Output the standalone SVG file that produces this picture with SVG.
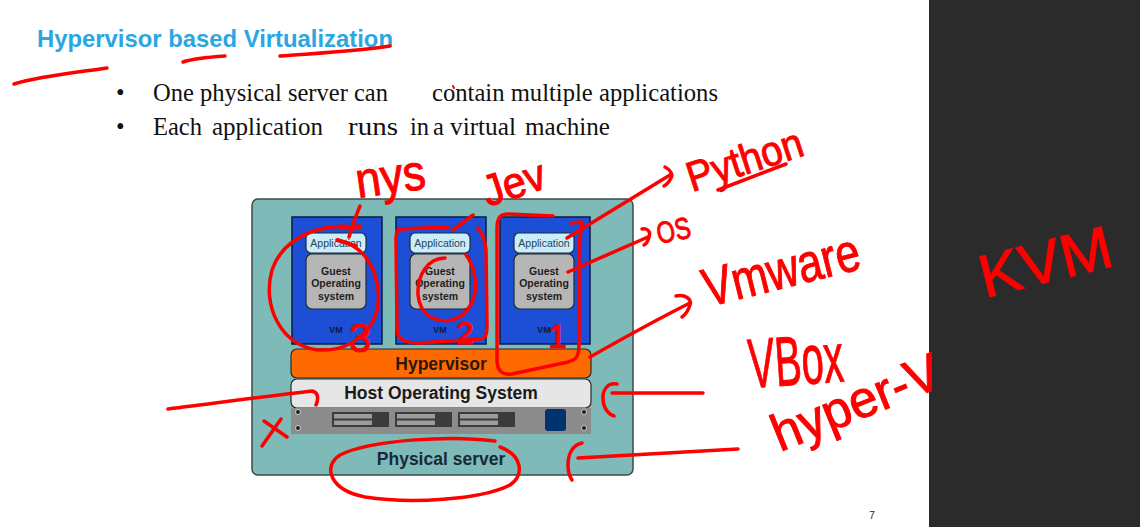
<svg xmlns="http://www.w3.org/2000/svg" width="1140" height="527" viewBox="0 0 1140 527">
  <defs>
    <style>
      .title { font-family: "Liberation Sans", Arial, sans-serif; font-weight: bold; font-size: 24px; fill: #2aa6e2; }
      .body { font-family: "Liberation Serif", "Times New Roman", serif; font-size: 24.5px; fill: #111; }
      .vm { fill: #1c4fd6; stroke: #0b1a44; stroke-width: 1.5; }
      .app { fill: #c9eef8; stroke: #1d2b3a; stroke-width: 1.2; }
      .apptxt { font-family: "Liberation Sans", Arial, sans-serif; font-size: 10.5px; fill: #27405e; text-anchor: middle; }
      .guest { fill: #b6b6b6; stroke: #1d2b3a; stroke-width: 1.2; }
      .guesttxt { font-family: "Liberation Sans", Arial, sans-serif; font-weight: bold; font-size: 10.5px; fill: #1e1e1e; text-anchor: middle; }
      .vmtxt { font-family: "Liberation Sans", Arial, sans-serif; font-weight: bold; font-size: 9px; fill: #0d1b3a; text-anchor: middle; }
      .layer { font-family: "Liberation Sans", Arial, sans-serif; font-weight: bold; font-size: 17.5px; text-anchor: middle; }
      .bay { fill: #3b3b3b; }
      .stripe { fill: #9c9c9c; }
      .screw { fill: #1e1e1e; stroke: #d0d0d0; stroke-width: 1; }
      .ink { fill: none; stroke: #ff0000; stroke-width: 3.5; stroke-linecap: round; stroke-linejoin: round; }
      .hand { font-family: "Liberation Sans", Arial, sans-serif; fill: #ff0000; stroke: #ff0000; stroke-width: 1; }
    </style>
  </defs>

  <!-- page -->
  <rect x="0" y="0" width="1140" height="527" fill="#ffffff"/>
  <rect x="929" y="0" width="211" height="527" fill="#2b2b2b"/>

  <!-- heading and bullets -->
  <g id="title">
    <text class="title" x="37" y="47" textLength="356" lengthAdjust="spacingAndGlyphs">Hypervisor based Virtualization</text>
  </g>
  <g id="bullets" class="body">
    <text x="116" y="101">•</text>
    <text x="153" y="101" textLength="235" lengthAdjust="spacingAndGlyphs">One physical server can</text>
    <text x="432" y="101" textLength="286" lengthAdjust="spacingAndGlyphs">contain multiple applications</text>
    <text x="116" y="135">•</text>
    <text x="153" y="135" textLength="49" lengthAdjust="spacingAndGlyphs">Each</text>
    <text x="212" y="135" textLength="111" lengthAdjust="spacingAndGlyphs">application</text>
    <text x="348" y="135" textLength="50" lengthAdjust="spacingAndGlyphs">runs</text>
    <text x="410" y="135">in</text>
    <text x="433" y="135">a</text>
    <text x="450" y="135" textLength="66" lengthAdjust="spacingAndGlyphs">virtual</text>
    <text x="525" y="135" textLength="85" lengthAdjust="spacingAndGlyphs">machine</text>
  </g>
  <text x="872" y="519" font-family="Liberation Sans, Arial, sans-serif" font-size="10" fill="#222" text-anchor="middle">7</text>

  <!-- physical server enclosure -->
  <g id="physical-server">
    <rect x="252" y="199" width="381" height="276" rx="6" fill="#7dbab8" stroke="#3c4a4a" stroke-width="1.5"/>
    <text class="layer" x="441" y="465" fill="#1b2838">Physical server</text>
  </g>

  <!-- virtual machines -->
  <g id="vm1">
    <rect class="vm" x="292" y="217" width="90" height="127"/>
    <rect class="app" x="306" y="233" width="60" height="20" rx="5"/>
    <text class="apptxt" x="336" y="247">Application</text>
    <rect class="guest" x="306" y="254" width="60" height="55" rx="6"/>
    <text class="guesttxt" x="336" y="275">Guest</text>
    <text class="guesttxt" x="336" y="287">Operating</text>
    <text class="guesttxt" x="336" y="300">system</text>
    <text class="vmtxt" x="336" y="333">VM</text>
  </g>
  <g id="vm2">
    <rect class="vm" x="396" y="217" width="90" height="127"/>
    <rect class="app" x="410" y="233" width="60" height="20" rx="5"/>
    <text class="apptxt" x="440" y="247">Application</text>
    <rect class="guest" x="410" y="254" width="60" height="55" rx="6"/>
    <text class="guesttxt" x="440" y="275">Guest</text>
    <text class="guesttxt" x="440" y="287">Operating</text>
    <text class="guesttxt" x="440" y="300">system</text>
    <text class="vmtxt" x="440" y="333">VM</text>
  </g>
  <g id="vm3">
    <rect class="vm" x="500" y="217" width="90" height="127"/>
    <rect class="app" x="514" y="233" width="60" height="20" rx="5"/>
    <text class="apptxt" x="544" y="247">Application</text>
    <rect class="guest" x="514" y="254" width="60" height="55" rx="6"/>
    <text class="guesttxt" x="544" y="275">Guest</text>
    <text class="guesttxt" x="544" y="287">Operating</text>
    <text class="guesttxt" x="544" y="300">system</text>
    <text class="vmtxt" x="544" y="333">VM</text>
  </g>

  <!-- layers -->
  <g id="hypervisor">
    <rect x="291" y="349" width="300" height="29" rx="6" fill="#ff6a00" stroke="#2a2a2a" stroke-width="1.2"/>
    <text class="layer" x="441" y="370" font-size="18" fill="#2a1808">Hypervisor</text>
  </g>
  <g id="host-os">
    <rect x="291" y="379" width="300" height="29" rx="6" fill="#e6e6e6" stroke="#2a2a2a" stroke-width="1.2"/>
    <text class="layer" x="441" y="399" fill="#1a1a1a">Host Operating System</text>
  </g>
  <g id="hardware">
    <rect x="291" y="408" width="300" height="26" fill="#8c8c8c"/>
    <circle class="screw" cx="298" cy="412" r="2.5"/>
    <circle class="screw" cx="298" cy="428" r="2.5"/>
    <circle class="screw" cx="584" cy="412" r="2.5"/>
    <circle class="screw" cx="584" cy="428" r="2.5"/>
    <rect class="bay" x="332" y="412" width="57" height="15"/>
    <rect class="stripe" x="334" y="414" width="38" height="4.5"/>
    <rect class="stripe" x="334" y="420.5" width="38" height="4.5"/>
    <rect class="bay" x="395" y="412" width="57" height="15"/>
    <rect class="stripe" x="397" y="414" width="38" height="4.5"/>
    <rect class="stripe" x="397" y="420.5" width="38" height="4.5"/>
    <rect class="bay" x="458" y="412" width="57" height="15"/>
    <rect class="stripe" x="460" y="414" width="38" height="4.5"/>
    <rect class="stripe" x="460" y="420.5" width="38" height="4.5"/>
    <rect x="545" y="409" width="21" height="22" rx="3" fill="#00336e"/>
  </g>

  <!-- red pen markup -->
  <g id="connectors" class="ink">
    <path d="M14,84 C40,76 80,72 107,68"/>
    <path d="M183,62 C195,58 210,57 225,56"/>
    <path d="M280,56 C320,53 360,51 390,46"/>
    <path d="M453,86 L454,88" stroke-width="2"/>
    <path d="M360,206 C356,215 352,226 349,237"/>
    <path d="M340,228 L360,226"/>
    <path d="M337,240 L356,246"/>
    <path d="M360,228 C330,222 285,232 272,270 C262,305 280,345 318,350 C355,352 382,325 378,290 C375,262 360,245 338,240"/>
    <path d="M448,227 L402,229 C397,229 396,232 396,240 L397,330 C398,340 405,343 420,343 L480,339 C486,338 487,335 487,325 L486,250 C485,240 482,233 478,228"/>
    <path d="M453,230 L473,215"/>
    <path d="M445,258 C428,258 417,275 418,295 C420,315 435,323 452,320 C470,315 478,295 475,278 C473,266 470,260 466,255"/>
    <path d="M571,223 L582,222 L579,245 L579,345 C579,356 576,360 568,362 L512,374 C502,375 497,371 497,360 L497,228 C497,218 500,214 508,214 L553,216"/>
    <path d="M567,238 L670,175"/>
    <path d="M665,167 C671,170 673,175 671,178 C669,182 666,185 664,186"/>
    <path d="M718,190 L786,164"/>
    <path d="M568,272 L648,237"/>
    <path d="M642,229 C648,228 651,232 649,237 C648,241 646,244 644,245"/>
    <path d="M590,357 C620,340 660,318 690,303"/>
    <path d="M676,296 C685,294 692,299 690,305 C688,311 685,315 682,317"/>
    <path d="M617,384 C608,382 602,390 603,400 C604,410 610,415 614,416"/>
    <path d="M612,393 L703,393"/>
    <path d="M582,443 C572,445 568,455 568,465 C568,472 570,477 572,480"/>
    <path d="M578,458 C640,455 700,451 738,449"/>
    <path d="M168,409 C210,404 260,397 312,391 C318,392 319,398 316,405"/>
    <path d="M264,421 L287,437"/>
    <path d="M281,419 L262,446"/>
    <path d="M495,441 C450,435 370,440 340,455 C322,467 330,490 365,497 C410,504 480,500 510,485 C525,475 522,455 500,447"/>
  </g>
  <g id="notes" class="hand">
    <text transform="translate(358,198) rotate(-8)" font-size="50" textLength="70" lengthAdjust="spacingAndGlyphs">nys</text>
    <text transform="translate(488,207) rotate(-18)" font-size="44" textLength="64" lengthAdjust="spacingAndGlyphs">Jev</text>
    <text transform="translate(692,192) rotate(-18)" font-size="42" textLength="120" lengthAdjust="spacingAndGlyphs">Python</text>
    <text transform="translate(659,244) rotate(-12)" font-size="30" textLength="34" lengthAdjust="spacingAndGlyphs">OS</text>
    <text transform="translate(708,307) rotate(-14)" font-size="54" textLength="160" lengthAdjust="spacingAndGlyphs">Vmware</text>
    <text transform="translate(750,388) rotate(-4)" font-size="70" textLength="95" lengthAdjust="spacingAndGlyphs">VBox</text>
    <text transform="translate(780,452) rotate(-22)" font-size="52" textLength="178" lengthAdjust="spacingAndGlyphs">hyper-V</text>
    <text transform="translate(985,298) rotate(-14)" font-size="60" textLength="135" lengthAdjust="spacingAndGlyphs">KVM</text>
    <text x="349" y="352" font-size="40">3</text>
    <text x="456" y="344" font-size="32">2</text>
    <text x="548" y="348" font-size="34">1</text>
  </g>
</svg>
